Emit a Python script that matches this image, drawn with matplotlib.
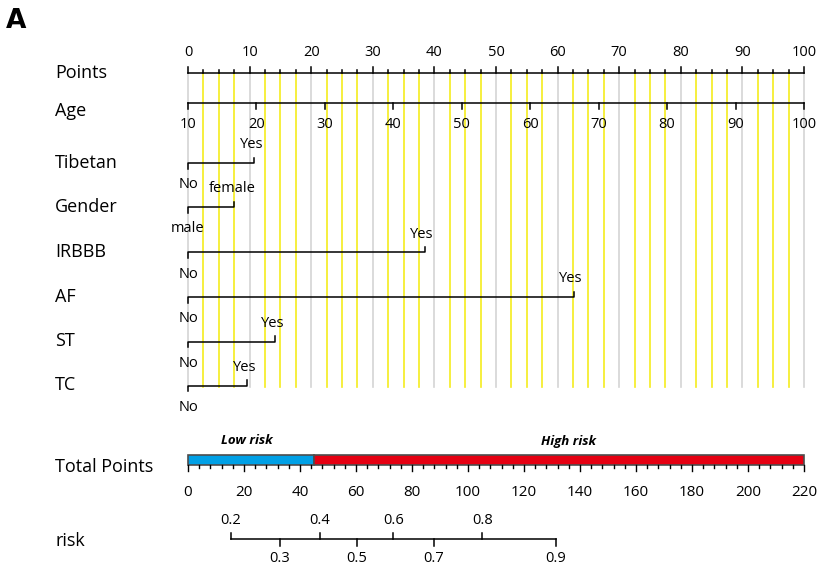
import matplotlib.pyplot as plt
import numpy as np
from matplotlib.patches import Rectangle

plt.rcParams['font.family'] = ['Open Sans', 'DejaVu Sans']

# data
points_ticks = np.arange(0, 101, 10)
age_ticks = np.arange(10, 101, 10)
age_min, age_max = 10, 100

var_names = ['Tibetan', 'Gender', 'IRBBB', 'AF', 'ST', 'TC']
var_low = ['No', 'male', 'No', 'No', 'No', 'No']
var_high = ['Yes', 'female', 'Yes', 'Yes', 'Yes', 'Yes']
var_points = [10.7, 7.5, 38.4, 62.6, 14.2, 9.6]

total_ticks = np.arange(0, 221, 20)
total_max = 220
risk_cut = 45
risk_labels = [0.2, 0.3, 0.4, 0.5, 0.6, 0.7, 0.8, 0.9]
risk_total = [15.4, 32.9, 47.1, 60.2, 73.3, 87.9, 105.1, 131.4]

# layout (pixel rows)
y_points = 73
y_age = 102.5
y_vars = [163, 207, 252, 297, 341.5, 385.5]
y_total = 465
y_risk = 539
grid_bottom = 387

fig = plt.figure(figsize=(8.21, 5.75), dpi=100)
ax = fig.add_axes([0, 0, 1, 1])
ax.axis('off')
px = 6.16  # pixels per point
ax.set_xlim(-188 / px, (821 - 188) / px)
ax.set_ylim(575, 0)

lw = 1.1
fs_lab = 13
fs_tick = 10.5


def tp(v):
    return np.asarray(v) * 100 / total_max


# vertical guide lines
for v in np.arange(0, 100.01, 2.5):
    col = '#d4d4d4' if v % 10 == 0 else '#f5ec1e'
    ax.plot([v, v], [y_points, grid_bottom], color=col, lw=1.2, zorder=1)

# Points axis
ax.plot([0, 100], [y_points, y_points], color='black', lw=lw, zorder=3)
for v in np.arange(0, 100.01, 2.5):
    h = 6 if v % 10 == 0 else 3.5
    ax.plot([v, v], [y_points, y_points - h], color='black', lw=lw, zorder=3)
for v in points_ticks:
    ax.text(v, 53, f'{v:g}', ha='center', va='center', fontsize=fs_tick)

# Age axis
age_pts = (age_ticks - age_min) / (age_max - age_min) * 100
ax.plot([0, 100], [y_age, y_age], color='black', lw=lw, zorder=3)
for a, p in zip(age_ticks, age_pts):
    ax.plot([p, p], [y_age, y_age + 6.5], color='black', lw=lw, zorder=3)
    ax.text(p, 125, str(a), ha='center', va='center', fontsize=fs_tick)

# binary variables
for name, lo, hi, p, y in zip(var_names, var_low, var_high, var_points, y_vars):
    ax.plot([0, 0, p, p], [y + 5.5, y, y, y - 5.5], color='black', lw=lw, zorder=3)
    ax.text(p - 0.4, y - 18, hi, ha='center', va='center', fontsize=fs_tick)
    ax.text(0, y + 22, lo, ha='center', va='center', fontsize=fs_tick)

# row labels
rows = ['Points', 'Age'] + var_names + ['Total Points', 'risk']
rows_y = [y_points, 111] + y_vars + [467, 541]
for r, y in zip(rows, rows_y):
    ax.text(-133 / px, y, r, ha='left', va='center', fontsize=fs_lab)

# Total points bar
bar_top, bar_h = 454.5, 10
ax.add_patch(Rectangle((0, bar_top), tp(risk_cut), bar_h, facecolor='#00a0e6',
                       edgecolor='#4d4d4d', lw=1.2, zorder=3))
ax.add_patch(Rectangle((tp(risk_cut), bar_top), tp(total_max) - tp(risk_cut), bar_h,
                       facecolor='#e60012', edgecolor='#4d4d4d', lw=1.2, zorder=3))
ax.text(tp(risk_cut / 2) - 0.7, 441, 'Low risk', ha='center', va='center',
        fontsize=9.5, style='italic', weight='bold')
ax.text(tp(136), 441, 'High risk', ha='center', va='center',
        fontsize=9.5, style='italic', weight='bold')
for v in np.arange(0, total_max + 0.1, 4):
    h = 6.5 if v % 20 == 0 else 3
    ax.plot([tp(v)] * 2, [bar_top + bar_h, bar_top + bar_h + h], color='black', lw=1, zorder=3)
for v in total_ticks:
    ax.text(tp(v), 492, str(v), ha='center', va='center', fontsize=11)

# risk axis
ax.plot([tp(risk_total[0]), tp(risk_total[-1])], [y_risk, y_risk], color='black', lw=lw)
for i, (r, t) in enumerate(zip(risk_labels, risk_total)):
    if i % 2 == 0:
        ax.plot([tp(t)] * 2, [y_risk, y_risk - 6.5], color='black', lw=lw)
        ax.text(tp(t), 520, f'{r:g}', ha='center', va='center', fontsize=fs_tick)
    else:
        ax.plot([tp(t)] * 2, [y_risk, y_risk + 6.5], color='black', lw=lw)
        ax.text(tp(t), 559, f'{r:g}', ha='center', va='center', fontsize=fs_tick)

# panel letter
ax.text(-182 / px, 21, 'A', ha='left', va='center', fontsize=19, weight='heavy',
        family='DejaVu Sans')

fig.savefig('out.png', dpi=100)
